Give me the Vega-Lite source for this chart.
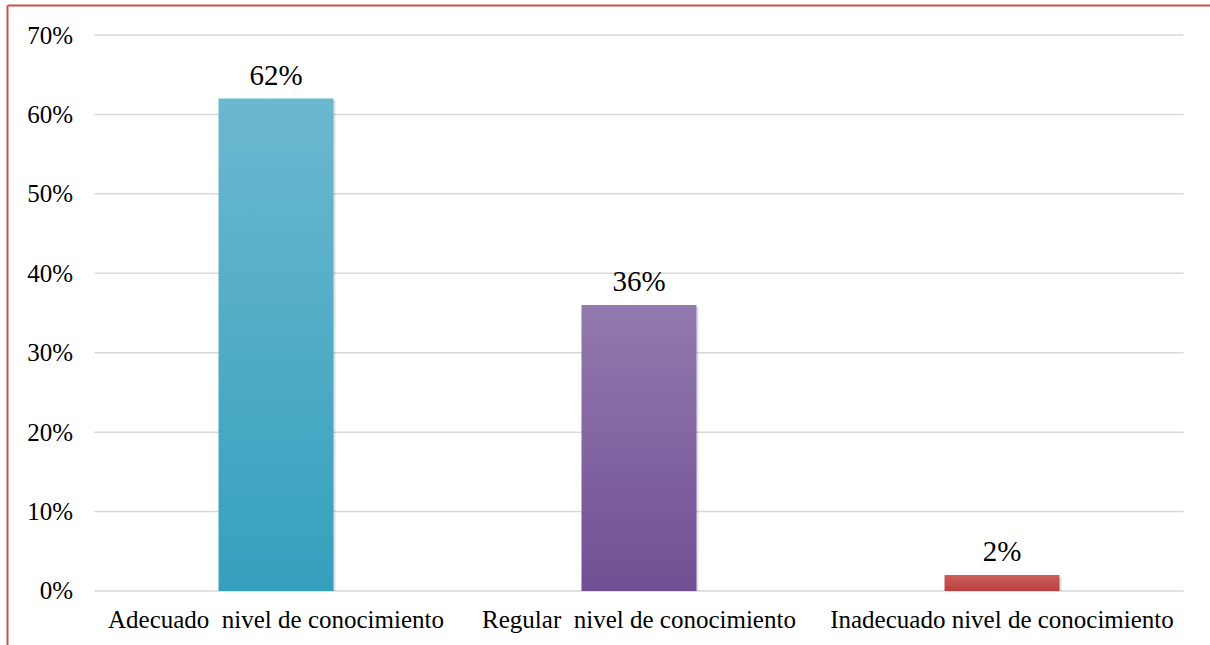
{
  "$schema": "https://vega.github.io/schema/vega-lite/v6.json",
  "width": 1203,
  "height": 640,
  "autosize": {"type": "none"},
  "padding": {"left": 7, "top": 5, "right": 0, "bottom": 0},
  "background": "white",
  "config": {
    "view": {"stroke": null},
    "font": "Liberation Serif",
    "axis": {"labelFont": "Liberation Serif", "titleFont": "Liberation Serif"}
  },
  "datasets": {
    "niveles": [
      {"nivel": "Adecuado\u00a0 nivel de conocimiento", "porcentaje": 0.62},
      {"nivel": "Regular\u00a0 nivel de conocimiento", "porcentaje": 0.36},
      {"nivel": "Inadecuado nivel de conocimiento", "porcentaje": 0.02}
    ],
    "marcas": [
      {"valor": 0}, {"valor": 0.1}, {"valor": 0.2}, {"valor": 0.3},
      {"valor": 0.4}, {"valor": 0.5}, {"valor": 0.6}, {"valor": 0.7}
    ]
  },
  "data": {"name": "niveles"},
  "layer": [
    {
      "data": {"name": "marcas"},
      "mark": {"type": "rule", "color": "#d9d9d9", "strokeWidth": 1.5},
      "encoding": {
        "x": {
          "datum": "Adecuado\u00a0 nivel de conocimiento",
          "type": "nominal",
          "bandPosition": 0,
          "scale": {
            "domain": ["Adecuado\u00a0 nivel de conocimiento", "Regular\u00a0 nivel de conocimiento", "Inadecuado nivel de conocimiento"],
            "paddingInner": 0, "paddingOuter": 0.157, "align": 0.7675
          },
          "axis": null
        },
        "x2": {"datum": "Inadecuado nivel de conocimiento", "bandPosition": 1},
        "y": {
          "field": "valor", "type": "quantitative",
          "scale": {"domain": [-0.068, 0.7378], "nice": false, "zero": false},
          "axis": null
        }
      }
    },
    {
      "mark": {"type": "bar", "width": 115, "color": "#000000", "opacity": 0.12, "xOffset": 2, "yOffset": 2},
      "encoding": {
        "x": {
          "field": "nivel", "type": "nominal", "sort": null,
          "axis": {"orient": "top", "domain": true, "domainColor": "#c9524f", "domainWidth": 2, "labels": false, "ticks": false, "grid": false, "title": null}
        },
        "y": {
          "field": "porcentaje", "type": "quantitative",
          "axis": {"orient": "left", "domain": true, "domainColor": "#c9524f", "domainWidth": 2, "labels": false, "ticks": false, "grid": false, "title": null}
        },
        "y2": {"datum": 0}
      }
    },
    {
      "transform": [{"filter": "datum.porcentaje > 0.5"}],
      "mark": {
        "type": "bar", "width": 115,
        "color": {"gradient": "linear", "x1": 0, "y1": 0, "x2": 0, "y2": 1,
          "stops": [{"offset": 0, "color": "#6bb8cf"}, {"offset": 1, "color": "#35a0be"}]}
      },
      "encoding": {
        "x": {
          "field": "nivel", "type": "nominal", "sort": null,
          "axis": {"orient": "bottom", "offset": -54, "domain": false, "ticks": false, "grid": false, "labelPadding": 16, "labelFontSize": 25, "labelColor": "#000000", "labelAngle": 0, "labelLimit": 0, "title": null}
        },
        "y": {
          "field": "porcentaje", "type": "quantitative",
          "axis": {"orient": "left", "offset": -87.5, "values": [0, 0.1, 0.2, 0.3, 0.4, 0.5, 0.6, 0.7], "format": ".0%", "domain": false, "ticks": false, "grid": false, "labelPadding": 22, "labelFontSize": 25, "labelColor": "#000000", "title": null}
        },
        "y2": {"datum": 0}
      }
    },
    {
      "transform": [{"filter": "datum.porcentaje > 0.1 && datum.porcentaje < 0.5"}],
      "mark": {
        "type": "bar", "width": 115,
        "color": {"gradient": "linear", "x1": 0, "y1": 0, "x2": 0, "y2": 1,
          "stops": [{"offset": 0, "color": "#9279ae"}, {"offset": 1, "color": "#724f94"}]}
      },
      "encoding": {
        "x": {"field": "nivel", "type": "nominal", "sort": null, "axis": null},
        "y": {"field": "porcentaje", "type": "quantitative", "axis": null},
        "y2": {"datum": 0}
      }
    },
    {
      "transform": [{"filter": "datum.porcentaje < 0.1"}],
      "mark": {
        "type": "bar", "width": 115,
        "color": {"gradient": "linear", "x1": 0, "y1": 0, "x2": 0, "y2": 1,
          "stops": [{"offset": 0, "color": "#cb5f5d"}, {"offset": 1, "color": "#b93f3f"}]}
      },
      "encoding": {
        "x": {"field": "nivel", "type": "nominal", "sort": null, "axis": null},
        "y": {"field": "porcentaje", "type": "quantitative", "axis": null},
        "y2": {"datum": 0}
      }
    },
    {
      "mark": {"type": "text", "fontSize": 29, "dy": -14, "baseline": "alphabetic", "align": "center", "color": "#000000", "font": "Liberation Serif"},
      "encoding": {
        "x": {"field": "nivel", "type": "nominal", "sort": null, "axis": null},
        "y": {"field": "porcentaje", "type": "quantitative", "axis": null},
        "text": {"field": "porcentaje", "type": "quantitative", "format": ".0%"}
      }
    }
  ],
  "resolve": {"axis": {"x": "independent", "y": "independent"}}
}
